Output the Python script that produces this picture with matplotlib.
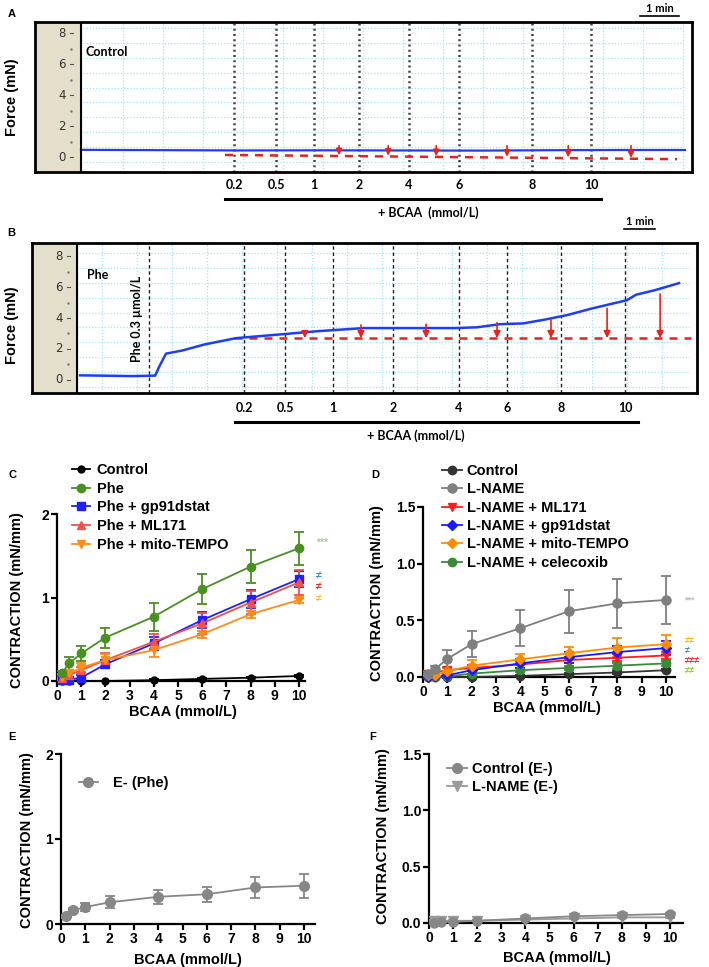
import numpy as np
import matplotlib
matplotlib.use("Agg")
import matplotlib.pyplot as plt
from matplotlib.lines import Line2D

plt.rcParams['font.family'] = ['Liberation Sans', 'DejaVu Sans']
plt.rcParams['font.weight'] = 'bold'
plt.rcParams['axes.labelweight'] = 'bold'

W, H = 709, 967
fig = plt.figure(figsize=(W / 100, H / 100), dpi=100)


def px_axes(l, t, r, b):
    return fig.add_axes([l / W, 1 - b / H, (r - l) / W, (b - t) / H])


def ftext(x, y, s, **kw):
    return fig.text(x / W, 1 - y / H, s, **kw)


def fline(x0, x1, y, lw=1.5):
    fig.add_artist(Line2D([x0 / W, x1 / W], [1 - y / H, 1 - y / H],
                          transform=fig.transFigure, color='black', lw=lw))


# ---------------- data : traces (time in min, force in mN) ----------------
bcaa_labels = ["0.2", "0.5", "1", "2", "4", "6", "8", "10"]

# A - control
a_add_t = [3.83, 4.88, 5.83, 6.95, 8.2, 9.45, 11.28, 12.75]
a_trace_t = [0.0, 2.0, 4.0, 6.0, 8.0, 10.0, 12.0, 13.5, 15.1]
a_trace_f = [0.48, 0.46, 0.44, 0.45, 0.44, 0.43, 0.46, 0.47, 0.47]
a_base_t = [3.6, 14.9]
a_base_f = [0.15, -0.12]
a_arrow_t = [6.45, 7.68, 8.88, 10.65, 12.18, 13.75]

# B - phenylephrine
b_phe_t = 2.32
b_add_t = [5.39, 6.71, 8.26, 10.19, 12.32, 13.87, 15.61, 17.68]
b_trace_t = [0.1, 1.8, 2.52, 2.65, 2.87, 3.39, 4.13, 5.13, 6.32, 7.77, 9.26,
             10.71, 12.19, 12.9, 13.65, 14.39, 15.1, 15.84, 16.58, 17.32,
             17.74, 18.03, 18.65, 19.42]
b_trace_f = [0.3, 0.25, 0.28, 0.85, 1.7, 1.9, 2.3, 2.7, 2.9, 3.15, 3.35,
             3.35, 3.35, 3.4, 3.6, 3.65, 3.9, 4.2, 4.6, 4.95,
             5.15, 5.5, 5.8, 6.25]
b_base_t = [5.06, 19.8]
b_base_f = 2.7
b_arrow_t = [7.35, 9.16, 11.26, 13.55, 15.29, 17.1, 18.81]
b_arrow_top = [3.12, 3.55, 3.6, 3.7, 3.87, 4.62, 5.55]

# ---------------- data : concentration-response ----------------
conc = [0.2, 0.5, 1, 2, 4, 6, 8, 10]

c_names = ["Control", "Phe", "Phe + gp91dstat", "Phe + ML171", "Phe + mito-TEMPO"]
c_mean = [
    [0.0, 0.0, 0.0, 0.0, 0.01, 0.025, 0.04, 0.06],
    [0.09, 0.21, 0.33, 0.52, 0.77, 1.1, 1.37, 1.59],
    [0.01, 0.015, 0.04, 0.2, 0.45, 0.73, 0.98, 1.22],
    [0.03, 0.07, 0.13, 0.25, 0.47, 0.69, 0.94, 1.18],
    [0.05, 0.09, 0.16, 0.25, 0.37, 0.56, 0.8, 0.97],
]
c_err = [
    [0.005, 0.005, 0.005, 0.005, 0.01, 0.01, 0.01, 0.01],
    [0.03, 0.075, 0.09, 0.12, 0.17, 0.18, 0.2, 0.2],
    [0.02, 0.02, 0.03, 0.05, 0.08, 0.1, 0.11, 0.1],
    [0.02, 0.03, 0.04, 0.08, 0.09, 0.13, 0.14, 0.15],
    [0.03, 0.04, 0.05, 0.07, 0.08, 0.04, 0.04, 0.03],
]

d_names = ["Control", "L-NAME", "L-NAME + ML171", "L-NAME + gp91dstat",
           "L-NAME + mito-TEMPO", "L-NAME + celecoxib"]
d_mean = [
    [0.0, 0.0, 0.0, 0.0, 0.01, 0.025, 0.04, 0.06],
    [0.03, 0.07, 0.16, 0.29, 0.43, 0.58, 0.65, 0.68],
    [0.03, 0.04, 0.06, 0.08, 0.11, 0.15, 0.17, 0.19],
    [0.0, 0.005, 0.015, 0.06, 0.12, 0.175, 0.22, 0.255],
    [0.015, 0.02, 0.05, 0.1, 0.155, 0.21, 0.26, 0.29],
    [0.0, 0.0, 0.005, 0.03, 0.06, 0.08, 0.1, 0.12],
]
d_err = [
    [0.005, 0.005, 0.005, 0.005, 0.005, 0.01, 0.01, 0.01],
    [0.02, 0.03, 0.075, 0.115, 0.16, 0.19, 0.215, 0.215],
    [0.01, 0.01, 0.02, 0.03, 0.03, 0.03, 0.03, 0.03],
    [0.01, 0.01, 0.02, 0.03, 0.04, 0.05, 0.05, 0.06],
    [0.01, 0.02, 0.03, 0.05, 0.045, 0.055, 0.08, 0.08],
    [0.005, 0.005, 0.01, 0.02, 0.02, 0.02, 0.025, 0.025],
]

e_mean = [0.09, 0.16, 0.2, 0.255, 0.32, 0.35, 0.43, 0.45]
e_err = [0.02, 0.03, 0.05, 0.07, 0.08, 0.09, 0.12, 0.14]

f_ctrl = [0.0, 0.01, 0.01, 0.02, 0.04, 0.06, 0.07, 0.08]
f_lname = [0.02, 0.02, 0.02, 0.02, 0.03, 0.04, 0.05, 0.05]

# ---------------- trace panels ----------------
BEIGE = '#e4dfcb'
GRIDC = '#9fe6f0'
TFONT = 'Lato'


def trace_panel(box, origin, ppm, ylims, ytext_px, grid_x0, grid_dx, grid_y0):
    l, t, r, b = box
    ax = px_axes(l, t, r, b)
    x0, x1 = (l - origin) / ppm, (r - origin) / ppm
    ax.set_xlim(x0, x1)
    ax.set_ylim(*ylims)
    ax.axvspan(x0, 0, color=BEIGE, zorder=0)
    ax.axvline(0, color='black', lw=1.5, zorder=5)
    for xg in np.arange(grid_x0, x1 - 0.2, grid_dx):
        ax.axvline(xg, color=GRIDC, lw=0.9, ls=(0, (1, 1.5)), zorder=1)
    for yg in np.arange(grid_y0, ylims[1] - 0.3, 0.96):
        ax.plot([0.05, x1 - 0.25], [yg, yg], color=GRIDC, lw=0.9,
                ls=(0, (1, 1.5)), zorder=1)
    tx = (ytext_px - origin) / ppm
    for v in range(0, 9, 2):
        ax.text(tx, v, str(v), ha='right', va='center', fontsize=8.5,
                family='DejaVu Sans', fontweight='normal', color='#333333')
        ax.plot([tx + 4 / ppm, tx + 6.5 / ppm], [v, v], color='#555555', lw=0.8)
    for v in range(1, 9, 2):
        ax.plot([tx + 5 / ppm], [v], marker='.', ms=1.5, color='#777777')
    ax.set_xticks([])
    ax.set_yticks([])
    for s in ax.spines.values():
        s.set_linewidth(2)
    return ax


def fy(box, ypx):
    return (box[3] - ypx) / (box[3] - box[1])


# Panel A
boxA = (35, 22, 692, 172)
axA = trace_panel(boxA, 81, 40, (-0.95, 8.73), 66, 1.05, 1.0, -0.3)
for tt in a_add_t:
    axA.axvline(tt, color='#444444', lw=1.8, ls=(0, (0.8, 1.3)), zorder=2)
axA.plot(a_trace_t, a_trace_f, color='#1f3df5', lw=1.6, zorder=4)
axA.plot(a_base_t, a_base_f, color='#e8221c', lw=1.8, ls=(0, (3.2, 2.8)), zorder=3)
for tt in a_arrow_t:
    yb = np.interp(tt, a_base_t, a_base_f)
    axA.annotate('', xy=(tt, yb + 0.05), xytext=(tt, 0.75),
                 arrowprops=dict(arrowstyle='-|>', color='#e8221c', lw=1.2,
                                 mutation_scale=9, shrinkA=0, shrinkB=0), zorder=6)
axA.text(0.125, 6.8, "Control", fontsize=9, family=TFONT, fontweight='bold', va='center')
xtA = axA.get_xaxis_transform()
for tt, lab in zip(a_add_t, bcaa_labels):
    axA.text(tt, fy(boxA, 185), lab, transform=xtA, ha='center', va='center',
             fontsize=9, family=TFONT, fontweight='bold', clip_on=False)
axA.plot([(225 - 81) / 40, (601 - 81) / 40], [fy(boxA, 199)] * 2, transform=xtA,
         color='black', lw=2.2, clip_on=False)
axA.text((428 - 81) / 40, fy(boxA, 213), "+ BCAA  (mmol/L)", transform=xtA,
         ha='center', va='center', fontsize=9, family=TFONT, fontweight='bold')

# Panel B
boxB = (32, 243, 697, 393)
axB = trace_panel(boxB, 77, 31, (-0.84, 8.84), 63, 0.806, 1.129, -0.45)
axB.axvline(b_phe_t, color='#222222', lw=1.0, ls=(0, (2.5, 2)), zorder=2)
for tt in b_add_t:
    axB.axvline(tt, color='#222222', lw=1.0, ls=(0, (2.5, 2)), zorder=2)
axB.plot(b_trace_t, b_trace_f, color='#1f3df5', lw=1.8, zorder=4)
axB.plot(b_base_t, [b_base_f] * 2, color='#e8221c', lw=1.8, ls=(0, (3.2, 2.8)), zorder=3)
for tt, top in zip(b_arrow_t, b_arrow_top):
    axB.annotate('', xy=(tt, b_base_f), xytext=(tt, top),
                 arrowprops=dict(arrowstyle='-|>', color='#e8221c', lw=1.2,
                                 mutation_scale=10, shrinkA=0, shrinkB=0), zorder=6)
axB.text((87 - 77) / 31, 6.77, "Phe", fontsize=9, family=TFONT, fontweight='bold', va='center')
axB.text((137 - 77) / 31, 3.94, "Phe 0.3 \u00b5mol/L", rotation=90, fontsize=9,
         family=TFONT, fontweight='bold', ha='center', va='center')
xtB = axB.get_xaxis_transform()
for tt, lab in zip(b_add_t, bcaa_labels):
    axB.text(tt, fy(boxB, 408), lab, transform=xtB, ha='center', va='center',
             fontsize=9, family=TFONT, fontweight='bold', clip_on=False)
axB.plot([(235 - 77) / 31, (638 - 77) / 31], [fy(boxB, 422)] * 2, transform=xtB,
         color='black', lw=2.2, clip_on=False)
axB.text((416 - 77) / 31, fy(boxB, 436), "+ BCAA (mmol/L)", transform=xtB,
         ha='center', va='center', fontsize=9, family=TFONT, fontweight='bold')

for (x0, x1, yb) in [(640, 679, 16), (624, 655, 229)]:
    fline(x0, x1, yb, lw=1.2)
    ftext((x0 + x1) / 2, yb - 2, "1 min", ha='center', va='bottom', fontsize=8,
          family=TFONT, fontweight='bold')
ftext(12, 97, "Force (mN)", rotation=90, ha='center', va='center', fontsize=10.5)
ftext(12, 325, "Force (mN)", rotation=90, ha='center', va='center', fontsize=10.5)

for lab, x, y in [("A", 12, 14), ("B", 11, 233), ("C", 12, 475), ("D", 375, 475),
                  ("E", 12, 737), ("F", 373, 737)]:
    ftext(x, y, lab, ha='center', va='center', fontsize=8)


# ---------------- concentration-response panels ----------------
def prism_axes(box, xmax, ymax, yticks, fmt, xlab_px, ylab_px):
    l, t, r, b = box
    ax = px_axes(l, t, r, b)
    ax.set_xlim(0, xmax)
    ax.set_ylim(0, ymax)
    for s in ['top', 'right']:
        ax.spines[s].set_visible(False)
    for s in ['left', 'bottom']:
        ax.spines[s].set_linewidth(1.6)
    ax.set_xticks(range(0, 11))
    ax.set_yticks(yticks)
    ax.set_yticklabels([fmt.format(v) for v in yticks])
    ax.tick_params(width=1.6, length=4, labelsize=10, pad=1.5)
    for tl in ax.get_xticklabels() + ax.get_yticklabels():
        tl.set_fontweight('bold')
    ax.set_xlabel("BCAA (mmol/L)", fontsize=10.5, fontweight='bold')
    ax.set_ylabel("CONTRACTION (mN/mm)", fontsize=10.5, fontweight='bold')
    ax.xaxis.set_label_coords((xlab_px[0] - l) / (r - l), (b - xlab_px[1]) / (b - t))
    ax.yaxis.set_label_coords((ylab_px[0] - l) / (r - l), (b - ylab_px[1]) / (b - t))
    ax.xaxis.label.set_va('center')
    ax.yaxis.label.set_va('center')
    return ax


def series(ax, y, e, color, marker, ms, z=3):
    cont = ax.errorbar(conc, y, yerr=e, color=color, marker=marker, ms=ms, lw=1.3,
                       elinewidth=1.3, capsize=3.5, capthick=1.3, zorder=z)
    for art in cont.get_children():
        art.set_clip_on(False)


def legend_at(handles, labels, x, y, hl, htp, ls):
    fig.legend(handles, labels, loc='upper left', bbox_to_anchor=(x / W, 1 - y / H),
               frameon=False, borderpad=0, borderaxespad=0, handlelength=hl,
               handletextpad=htp, labelspacing=ls, prop=dict(size=10.5, weight='bold'))


# C
c_style = [('black', 'o', 5), ('#4a8f22', 'o', 6), ('#1f1fff', 's', 5.5),
           ('#f2504a', '^', 6), ('#ff8c1a', 'v', 6)]
axC = prism_axes((57, 514, 305, 681), 10.25, 2, [0, 1, 2], "{:d}", (183, 712), (17, 600))
for i in [0, 2, 3, 4, 1]:
    col, mk, ms = c_style[i]
    series(axC, c_mean[i], c_err[i], col, mk, ms)
legend_at([Line2D([], [], color=c, marker=m, ms=s, lw=1.3) for c, m, s in c_style],
          c_names, 72, 463, 1.2, 0.5, 0.32)
for txt, col, y in [("***", '#a8cc90', 543), ("\u2260", '#3a8fd8', 575),
                    ("\u2260", '#e8302f', 586), ("\u2260", '#f2c12e', 598)]:
    ftext(316, y, txt, ha='left', va='center', fontsize=7.5, color=col)

# D
d_style = [('#333333', 'o', 6), ('#7f7f7f', 'o', 6.5), ('#ff1a1a', 'v', 6),
           ('#1a1aff', 'D', 5), ('#ff8c00', 'D', 5.5), ('#3a8a3a', 'o', 6)]
axD = prism_axes((423, 507, 675, 677), 10.37, 1.5, [0, 0.5, 1.0, 1.5], "{:.1f}",
                 (547, 708), (377, 593))
for i in [0, 5, 2, 3, 4, 1]:
    col, mk, ms = d_style[i]
    series(axD, d_mean[i], d_err[i], col, mk, ms)
legend_at([Line2D([], [], color=c, marker=m, ms=s, lw=1.3) for c, m, s in d_style],
          d_names, 442, 464, 1.4, 0.3, 0.3)
for txt, col, y in [("***", '#bbbbbb', 600), ("\u2260\u2260", '#ffc000', 640),
                    ("\u2260", '#3a8fd8', 650), ("\u2260\u2260\u2260", '#e8302f', 660),
                    ("\u2260\u2260", '#9acd32', 670)]:
    ftext(685, y, txt, ha='left', va='center', fontsize=6.5, color=col)

# E
axE = prism_axes((61, 754, 315, 924), 10.45, 2, [0, 1, 2], "{:d}", (188, 960), (27, 840))
series(axE, e_mean, e_err, '#878787', 'o', 7)
legend_at([Line2D([], [], color='#878787', marker='o', ms=7, lw=1.3)],
          ["E- (Phe)"], 79, 776, 1.3, 1.0, 0.3)

# F
axF = prism_axes((429, 754, 683, 923), 10.54, 1.5, [0, 0.5, 1.0, 1.5], "{:.1f}",
                 (557, 958), (383, 836))
series(axF, f_lname, [0.005] * 8, '#9a9a9a', 'v', 6.5)
series(axF, f_ctrl, [0.005] * 8, '#878787', 'o', 6.5)
legend_at([Line2D([], [], color='#878787', marker='o', ms=7, lw=1.3),
           Line2D([], [], color='#9a9a9a', marker='v', ms=7, lw=1.3)],
          ["Control (E-)", "L-NAME (E-)"], 447, 762, 1.4, 0.3, 0.3)

fig.savefig("out.png", dpi=100)
